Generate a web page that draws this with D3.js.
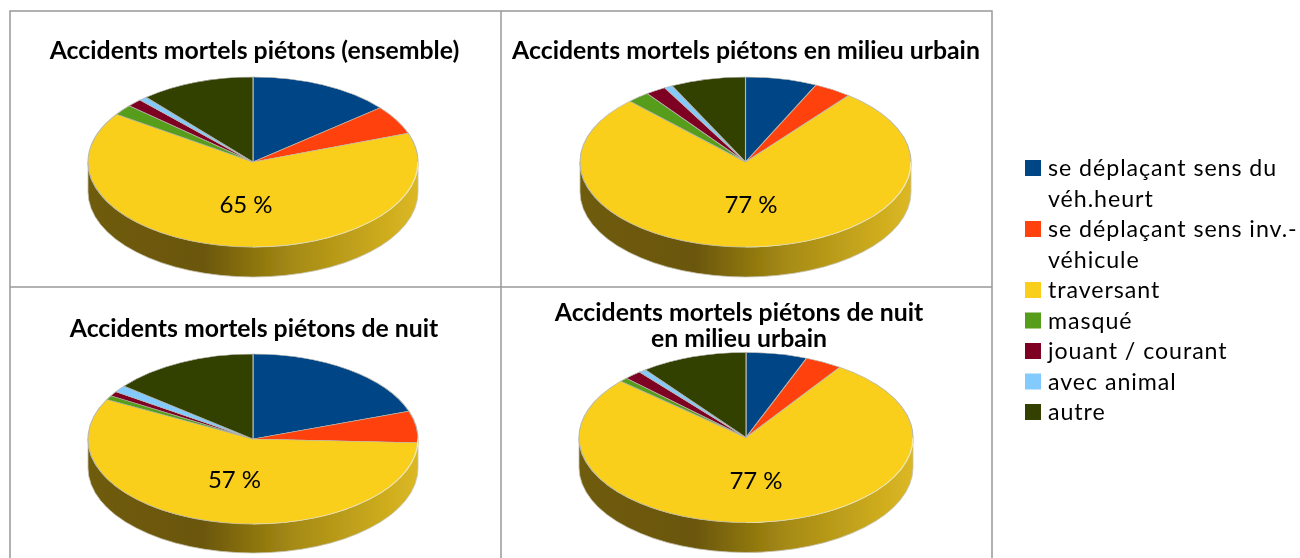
<!DOCTYPE html>
<html>
<head>
<meta charset="utf-8">
<script src="https://cdn.jsdelivr.net/npm/d3@7"></script>
<style>
  html, body { margin: 0; padding: 0; background: #fff; }
  svg { display: block; }
  text { font-family: Lato, "Open Sans", sans-serif; fill: #000; }
</style>
</head>
<body>
<svg id="chart" width="1300" height="558"></svg>
<script>
// categories and colours
var categories = ["se déplaçant sens du véh.heurt", "se déplaçant sens inv.-véhicule", "traversant", "masqué", "jouant / courant", "avec animal", "autre"];
var legendLines = [["se déplaçant sens du", "véh.heurt"], ["se déplaçant sens inv.-", "véhicule"], ["traversant"], ["masqué"], ["jouant / courant"], ["avec animal"], ["autre"]];
var colors = ["#004586", "#ff420e", "#f9cf1e", "#579d1c", "#7e0021", "#83caff", "#314004"];

// shares (percent)
var ensemble = [14, 5.5, 65, 2, 1.5, 0.8, 11.2];
var urbain = [7, 3.7, 77, 2.2, 2, 0.8, 7.3];
var nuit = [19.7, 6, 57, 0.8, 0.9, 1.3, 14.3];
var nuitUrbain = [5.9, 3.6, 77, 0.8, 1.7, 0.7, 10.3];

var titles = [
    ["Accidents mortels piétons (ensemble)"],
    ["Accidents mortels piétons en milieu urbain"],
    ["Accidents mortels piétons de nuit"],
    ["Accidents mortels piétons de nuit", "en milieu urbain"]
];
var labels = ["65 %", "77 %", "57 %", "77 %"];

var panels = [
    {values: ensemble, cx: 253, cy: 162, rx: 165, ry: 85, depth: 30, titleX: 254.5, titleY: [59], labelX: 246, labelY: 213},
    {values: urbain, cx: 745.5, cy: 162, rx: 165.5, ry: 85, depth: 30, titleX: 746, titleY: [59], labelX: 751, labelY: 213},
    {values: nuit, cx: 253, cy: 439, rx: 165, ry: 85, depth: 29, titleX: 254, titleY: [337], labelX: 234.5, labelY: 488},
    {values: nuitUrbain, cx: 746, cy: 437.5, rx: 167, ry: 85, depth: 30, titleX: 739, titleY: [321, 347], labelX: 756, labelY: 489}
];

var svg = d3.select("#chart");
var defs = svg.append("defs");

// side of the disc, dark on the left and gold on the right
var grad = defs.append("linearGradient").attr("id", "side");
grad.append("stop").attr("offset", "0%").attr("stop-color", "#6f5b0a");
grad.append("stop").attr("offset", "35%").attr("stop-color", "#6b5708");
grad.append("stop").attr("offset", "62%").attr("stop-color", "#a58a14");
grad.append("stop").attr("offset", "100%").attr("stop-color", "#dcb822");

defs.append("filter").attr("id", "soft")
    .append("feGaussianBlur").attr("stdDeviation", 0.45);

var frame = svg.append("g").attr("fill", "none").attr("stroke", "#989898").attr("stroke-width", 1.5);
frame.append("path").attr("d", "M10,558V11H992V558");
frame.append("path").attr("d", "M10,287H992");
frame.append("path").attr("d", "M501,11V558");

var pie = d3.pie().sort(null).value(function (d) { return d; });

panels.forEach(function (p, i) {
    var g = svg.append("g").attr("filter", "url(#soft)");

    titles[i].forEach(function (line, j) {
        g.append("text")
            .attr("x", p.titleX)
            .attr("y", p.titleY[j])
            .attr("text-anchor", "middle")
            .attr("font-weight", 700)
            .attr("font-size", 24.8)
            .text(line);
    });

    g.append("path")
        .attr("d", "M" + (p.cx - p.rx) + "," + p.cy +
            "A" + p.rx + "," + p.ry + " 0 0 0 " + (p.cx + p.rx) + "," + p.cy +
            "v" + p.depth +
            "A" + p.rx + "," + p.ry + " 0 0 1 " + (p.cx - p.rx) + "," + (p.cy + p.depth) + "Z")
        .attr("fill", "url(#side)")
        .attr("stroke", "#c4c0ae")
        .attr("stroke-width", 0.8);

    // a circle squeezed into the tilted ellipse
    var arc = d3.arc().innerRadius(0).outerRadius(p.rx);
    var top = g.append("g")
        .attr("transform", "translate(" + p.cx + "," + p.cy + ") scale(1," + (p.ry / p.rx) + ")");
    top.selectAll("path")
        .data(pie(p.values))
        .enter()
        .append("path")
        .attr("d", arc)
        .attr("fill", function (d, k) { return colors[k]; })
        .attr("stroke", "#b8b8b0")
        .attr("stroke-width", 1.1);

    // pale bevel on the lower right rim
    var rim = d3.arc().innerRadius(p.rx).outerRadius(p.rx).startAngle(Math.PI / 2).endAngle(Math.PI);
    top.append("path")
        .attr("d", rim())
        .attr("fill", "none")
        .attr("stroke", "#f6eaa4")
        .attr("stroke-width", 1.4);

    g.append("text")
        .attr("x", p.labelX)
        .attr("y", p.labelY)
        .attr("text-anchor", "middle")
        .attr("font-size", 24)
        .text(labels[i]);
});

// legend
var legend = svg.append("g").attr("filter", "url(#soft)");
var rowY = 169;
legendLines.forEach(function (lines, i) {
    legend.append("rect")
        .attr("x", 1025)
        .attr("y", rowY - 9)
        .attr("width", 16)
        .attr("height", 16)
        .attr("fill", colors[i]);
    lines.forEach(function (line, j) {
        legend.append("text")
            .attr("x", 1048)
            .attr("y", rowY + 7 + j * 30.5)
            .attr("font-size", 23.2)
            .attr("letter-spacing", 0.95)
            .text(line);
    });
    rowY += lines.length * 30.5;
});
</script>
</body>
</html>
